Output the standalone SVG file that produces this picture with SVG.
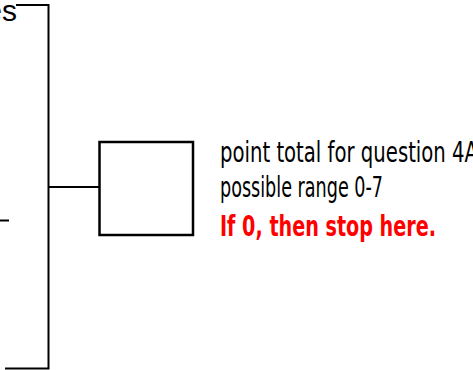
<svg xmlns="http://www.w3.org/2000/svg" width="473" height="370" viewBox="0 0 473 370">
  <style>
    .ln { stroke: #000; stroke-width: 2; fill: none; }
    .box { stroke: #000; stroke-width: 2.5; fill: #fff; }
    .lbl { font-family: "Liberation Sans Narrow", "DejaVu Sans Condensed", "Liberation Sans", sans-serif; font-size: 28px; fill: #000; }
    .warn { font-weight: bold; fill: #ff0000; }
    .cut { font-family: "Liberation Sans", Arial, sans-serif; font-size: 30px; fill: #000; }
  </style>
  <rect width="473" height="370" fill="#fff"/>
  <g id="connectors">
    <polyline class="ln" points="16,5 48.5,5 48.5,368.5 5,368.5"/>
    <line class="ln" x1="0" y1="220.5" x2="9" y2="220.5"/>
    <line class="ln" x1="48.5" y1="187" x2="99" y2="187"/>
  </g>
  <g id="label-top">
    <text class="cut" x="17" y="21" text-anchor="end">es</text>
  </g>
  <g id="score-box">
    <rect class="box" x="99.5" y="142" width="93.5" height="93"/>
  </g>
  <g id="note">
    <text class="lbl" x="220" y="162" textLength="258" lengthAdjust="spacingAndGlyphs">point total for question 4A</text>
    <text class="lbl" x="220" y="197" textLength="163" lengthAdjust="spacingAndGlyphs">possible range 0-7</text>
    <text class="lbl warn" x="220" y="236" textLength="216" lengthAdjust="spacingAndGlyphs">If 0, then stop here.</text>
  </g>
</svg>
